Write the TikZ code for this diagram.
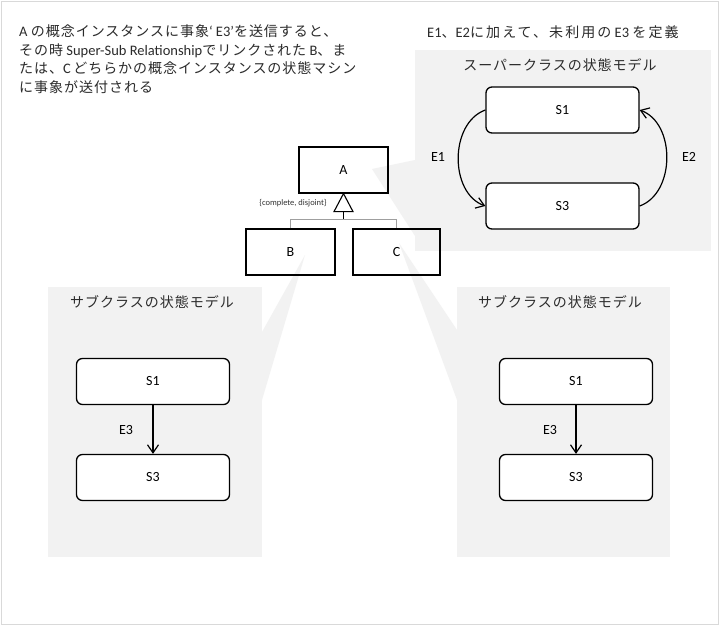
\documentclass[tikz,border=0pt]{standalone}
\usepackage{fontspec}
\setmainfont{Carlito}
\newfontfamily\jpfont[LetterSpace=7]{Noto Sans CJK JP}
\newfontfamily\jpwide[LetterSpace=15]{Noto Sans CJK JP}
\newcommand\jtx[1]{{\fontsize{14}{16}\selectfont\jpfont #1}}
\newcommand\jwd[1]{{\fontsize{14}{16}\selectfont\jpwide #1}}
\usetikzlibrary{arrows.meta}
\definecolor{panel}{HTML}{F2F2F2}
\definecolor{framecol}{HTML}{D9D9D9}
\definecolor{ink}{HTML}{2B2B2B}
\tikzset{
  txt/.style={font=\fontsize{14.5}{16}\selectfont, text=ink, inner sep=0pt},
  cls/.style={draw, line width=1.2pt, minimum width=89pt, minimum height=46pt, inner sep=0pt, font=\fontsize{14}{16}\selectfont},
  stbox/.style={draw, fill=white, rounded corners=6pt, line width=1.3pt, minimum width=153pt, minimum height=46pt, inner sep=0pt, font=\fontsize{14}{16}\selectfont},
  lbl/.style={font=\fontsize{14}{16}\selectfont, inner sep=0pt},
  tr/.style={-{Straight Barb[length=8pt,width=11pt]}, line width=1.2pt},
  branch/.style={draw=gray!75, line width=1.2pt}
}
\begin{document}
\begin{tikzpicture}[x=1pt,y=-1pt]
\useasboundingbox (0,0) rectangle (720,626);
\fill[white] (0,0) rectangle (720,626);
\draw[framecol, line width=1.5pt] (1.5,1.5) rectangle (718.5,624.5);

% panels and callout wedges
\fill[panel] (415,50) rectangle (711,251);
\fill[panel] (48,287) rectangle (262,557);
\fill[panel] (457,287) rectangle (670,557);
\fill[panel] (372,169) -- (415,160) -- (415,236) -- cycle;
\fill[panel] (305,255) -- (262,332) -- (262,400) -- cycle;
\fill[panel] (399,243) -- (457,330) -- (457,400) -- cycle;

% intro text
\node[txt, anchor=base west] (txa) at (19,37) {A \jtx{の概念インスタンスに事象}‘\ E3’\jtx{を送信すると、}};
\node[txt, anchor=base west] (txb) at (19,55.5) {\jtx{その時} Super-Sub Relationship\jtx{でリンクされた}\ B\jtx{、ま}};
\node[txt, anchor=base west] (txc) at (19,74) {\jtx{たは、}C\,\jtx{どちらかの概念インスタンスの状態マシン}};
\node[txt, anchor=base west] (txd) at (19,92.5) {\jtx{に事象が送付される}};

\node[txt, anchor=base west] (txe) at (427,37.5) {E1\jwd{、}E2\jwd{に加えて、未利用の}\ E3\ \jwd{を定義}};

% panel titles
\node[txt] (t1) at (560,65) {\jtx{スーパークラスの状態モデル}};
\node[txt] (t2) at (152,302) {\jtx{サブクラスの状態モデル}};
\node[txt] (t3) at (560,302) {\jtx{サブクラスの状態モデル}};

% class diagram
\node[cls] (A) at (343.5,170) {A};
\node[cls] (B) at (290.5,252) {B};
\node[cls, minimum width=87pt] (C) at (396.5,252) {C};
\draw[line width=1.1pt] (A.south) -- ++(-9.5,18) coordinate (tl) -- ++(19,0) -- cycle;
\draw[line width=1pt] (A.south) ++(0,18) coordinate (gtop) -- ++(0,8) coordinate (gj);
\draw[branch] (B.north) |- (gj) -| (C.north);
\node[font=\fontsize{8.5}{9}\selectfont, text=gray!40!black, inner sep=0pt] (cd) at (293,203) {\{complete, disjoint\}};

% super class state model
\node[stbox] (s1) at (562.5,110) {S1};
\node[stbox] (s3) at (562.5,206) {S3};
\draw[tr] (s1.west) .. controls +(-36,13) and +(-36,-13) .. (s3.west);
\draw[tr] (s3.east) .. controls +(36,-13) and +(36,13) .. (s1.east);
\node[lbl] (e1) at (438,157) {E1};
\node[lbl] (e2) at (689,157) {E2};

% left sub class
\node[stbox] (l1) at (153,381.5) {S1};
\node[stbox] (l3) at (153,477.5) {S3};
\draw[tr] (l1.south) -- (l3.north);
\node[lbl] (le) at (126,430) {E3};

% right sub class
\node[stbox] (r1) at (576,381.5) {S1};
\node[stbox] (r3) at (576,477.5) {S3};
\draw[tr] (r1.south) -- (r3.north);
\node[lbl] (re) at (550,430) {E3};
\end{tikzpicture}
\end{document}
